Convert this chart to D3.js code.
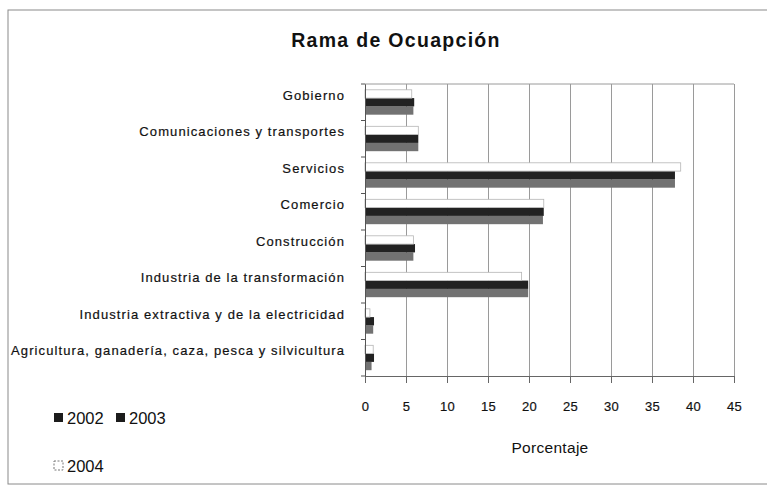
<!DOCTYPE html>
<html>
<head>
<meta charset="utf-8">
<script src="https://cdn.jsdelivr.net/npm/d3@7"></script>
<style>
  body { margin: 0; background: #fff; }
  svg { font-family: "Liberation Sans", Arial, sans-serif; }
</style>
</head>
<body>
<svg id="chart" width="767" height="492"></svg>
<script>
// categories top -> bottom
const categories = [
    "Gobierno",
    "Comunicaciones y transportes",
    "Servicios",
    "Comercio",
    "Construcción",
    "Industria de la transformación",
    "Industria extractiva y de la electricidad",
    "Agricultura, ganadería, caza, pesca y silvicultura"
];
const years = ["2002", "2003", "2004"];
const values2002 = [5.9, 6.5, 37.8, 21.7, 5.9, 19.9, 1.0, 0.8];
const values2003 = [6.0, 6.5, 37.8, 21.8, 6.1, 19.9, 1.1, 1.1];
const values2004 = [5.7, 6.5, 38.5, 21.8, 5.9, 19.1, 0.6, 1.0];
const xTicks = [0, 5, 10, 15, 20, 25, 30, 35, 40, 45];

const series = {"2002": values2002, "2003": values2003, "2004": values2004};
const colors = {"2002": "#727272", "2003": "#222222", "2004": "#ffffff"};

const svg = d3.select("#chart");
const m = {left: 365, right: 734, top: 84, bottom: 376};

// frame
svg.append("rect")
    .attr("x", 8).attr("y", 10)
    .attr("width", 790).attr("height", 474)
    .attr("fill", "none")
    .attr("stroke", "#8a8a8a")
    .attr("stroke-width", 1);

svg.append("text")
    .attr("x", 396).attr("y", 47)
    .attr("text-anchor", "middle")
    .attr("font-size", 19.5)
    .attr("font-weight", "bold")
    .attr("letter-spacing", 1.3)
    .attr("fill", "#111")
    .text("Rama de Ocuapción");

const x = d3.scaleLinear().domain([0, 45]).range([m.left, m.right]);
const y = d3.scaleBand().domain(categories).range([m.top, m.bottom]).paddingInner(0).paddingOuter(0);
const inner = d3.scaleBand().domain(["2004", "2003", "2002"]).range([0, y.bandwidth()])
    .paddingInner(0).paddingOuter(0.7);

// grid
svg.append("g")
    .attr("transform", `translate(0,${m.bottom})`)
    .call(d3.axisBottom(x).tickValues(xTicks).tickSize(-(m.bottom - m.top)).tickFormat(""))
    .call(g => g.select(".domain").remove())
    .call(g => g.selectAll("line").attr("stroke", "#9a9a9a"));
svg.append("line")
    .attr("x1", m.left).attr("x2", m.right)
    .attr("y1", m.top).attr("y2", m.top)
    .attr("stroke", "#9a9a9a");

// bars
years.forEach(yr => {
    svg.append("g")
        .selectAll("rect")
        .data(categories)
        .join("rect")
        .attr("x", x(0))
        .attr("y", (d) => y(d) + inner(yr))
        .attr("width", (d, i) => x(series[yr][i]) - x(0))
        .attr("height", inner.bandwidth())
        .attr("fill", colors[yr])
        .attr("stroke", yr === "2004" ? "#b5b5b5" : "none")
        .attr("stroke-width", 0.8);
});

// x axis
const xAxis = svg.append("g")
    .attr("transform", `translate(0,${m.bottom})`)
    .call(d3.axisBottom(x).tickValues(xTicks).tickSize(7).tickPadding(19).tickSizeOuter(0));
xAxis.select(".domain").attr("stroke", "#666");
xAxis.selectAll("line").attr("stroke", "#666");
xAxis.selectAll("text")
    .attr("font-size", 13)
    .attr("letter-spacing", 0.4)
    .attr("fill", "#111")
    .attr("stroke", "#111").attr("stroke-width", 0.2)
    .attr("font-family", "Liberation Sans, Arial, sans-serif");

// y axis
const yAxis = svg.append("g")
    .attr("transform", `translate(${m.left},0)`)
    .call(d3.axisLeft(y).tickSize(0).tickPadding(20));
yAxis.select(".domain").attr("stroke", "#555");
yAxis.selectAll("text")
    .attr("dy", "-0.18em")
    .attr("font-size", 13)
    .attr("letter-spacing", 1.1)
    .attr("fill", "#111")
    .attr("stroke", "#111").attr("stroke-width", 0.2)
    .attr("font-family", "Liberation Sans, Arial, sans-serif");
svg.append("g")
    .selectAll("line")
    .data(d3.range(categories.length + 1))
    .join("line")
    .attr("x1", m.left - 4).attr("x2", m.left)
    .attr("y1", i => m.top + i * y.step())
    .attr("y2", i => m.top + i * y.step())
    .attr("stroke", "#555");

svg.append("text")
    .attr("x", 550).attr("y", 453)
    .attr("text-anchor", "middle")
    .attr("font-size", 15.5)
    .attr("letter-spacing", 0.3)
    .attr("fill", "#111")
    .text("Porcentaje");

// legend
const legend = [
    {year: "2002", x: 54, y: 418},
    {year: "2003", x: 116, y: 418},
    {year: "2004", x: 54, y: 466}
];
const lg = svg.append("g").selectAll("g").data(legend).join("g")
    .attr("transform", d => `translate(${d.x},${d.y})`);
lg.append("rect")
    .attr("x", 0).attr("y", -5).attr("width", 9).attr("height", 9)
    .attr("fill", d => d.year === "2004" ? "#fff" : "#1c1c1c")
    .attr("stroke", d => d.year === "2004" ? "#777" : "none")
    .attr("stroke-dasharray", d => d.year === "2004" ? "2,1.5" : null);
lg.append("text")
    .attr("x", 13).attr("y", 0)
    .attr("dy", "0.36em")
    .attr("font-size", 16.5)
    .attr("fill", "#111")
    .text(d => d.year);
</script>
</body>
</html>
